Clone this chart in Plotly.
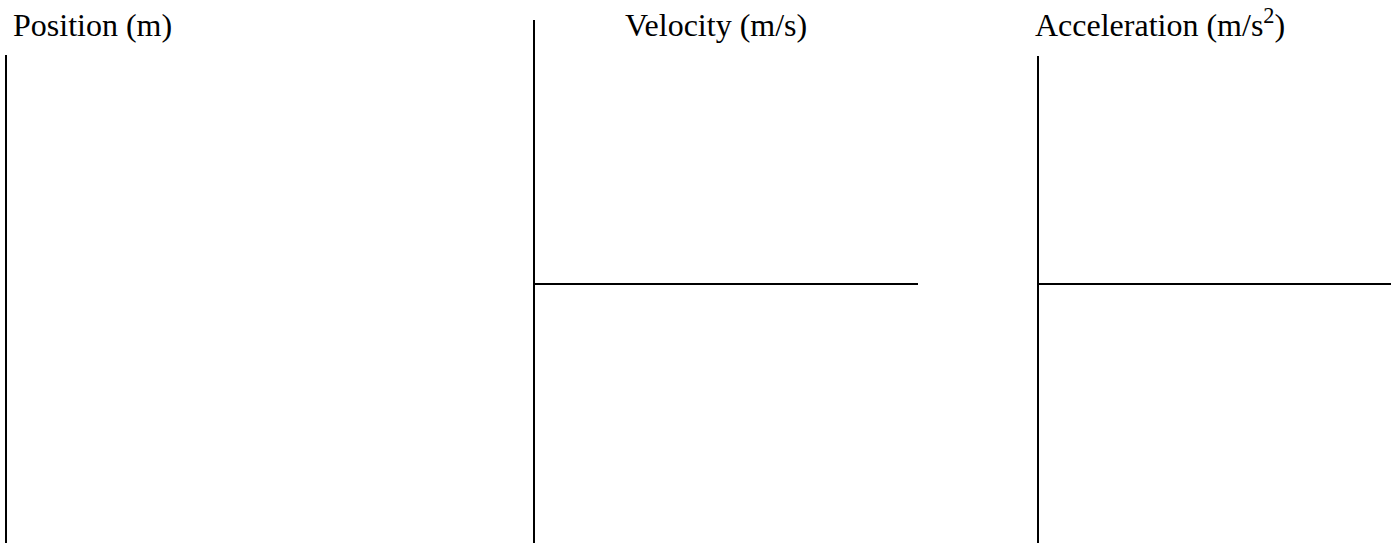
import plotly.graph_objects as go

W, H = 1391, 543

# Panel definitions (blank worksheet graphs)
panel_titles = ["Position (m)", "Velocity (m/s)", "Acceleration (m/s<sup>2</sup>)"]
title_left_px = [11, 623, 1033]
axis_left_px = [7, 535, 1039]
axis_right_px = [480, 918, 1391]
axis_top_px = [55, 20, 56]
zero_line_px = [None, 284, 284]

fig = go.Figure()

for i in range(3):
    n = "" if i == 0 else str(i + 1)
    x0 = axis_left_px[i] / W
    x1 = axis_right_px[i] / W
    ytop = 1 - axis_top_px[i] / H
    fig.add_trace(go.Scatter(x=[], y=[], xaxis="x" + n, yaxis="y" + n, showlegend=False,
                             hoverinfo="skip"))
    if zero_line_px[i] is None:
        yr = [0, 1]
        zl = False
    else:
        below = H - zero_line_px[i]
        above = zero_line_px[i] - axis_top_px[i]
        yr = [-below, above]
        zl = True
    fig.layout["xaxis" + n] = dict(domain=[x0, x1], range=[0, 1], showline=False,
                                   showgrid=False, zeroline=False, showticklabels=False,
                                   ticks="", fixedrange=True)
    fig.layout["yaxis" + n] = dict(domain=[0, ytop], range=yr, anchor="x" + n,
                                   showline=True, linecolor="black", linewidth=2,
                                   showgrid=False, zeroline=zl, zerolinecolor="black",
                                   zerolinewidth=2, showticklabels=False, ticks="",
                                   fixedrange=True)
    fig.add_annotation(text=panel_titles[i], xref="paper", yref="paper",
                       x=title_left_px[i] / W, y=1 - 45 / H, xanchor="left", yanchor="bottom",
                       showarrow=False,
                       font=dict(family="Liberation Serif, Times New Roman, serif", size=32,
                                 color="black"))

fig.update_layout(width=W, height=H, margin=dict(l=0, r=0, t=0, b=0),
                  plot_bgcolor="white", paper_bgcolor="white")

fig.write_html("out.html", config={"displayModeBar": False},
               post_script="document.body.style.margin='0';document.body.style.overflow='hidden';")
